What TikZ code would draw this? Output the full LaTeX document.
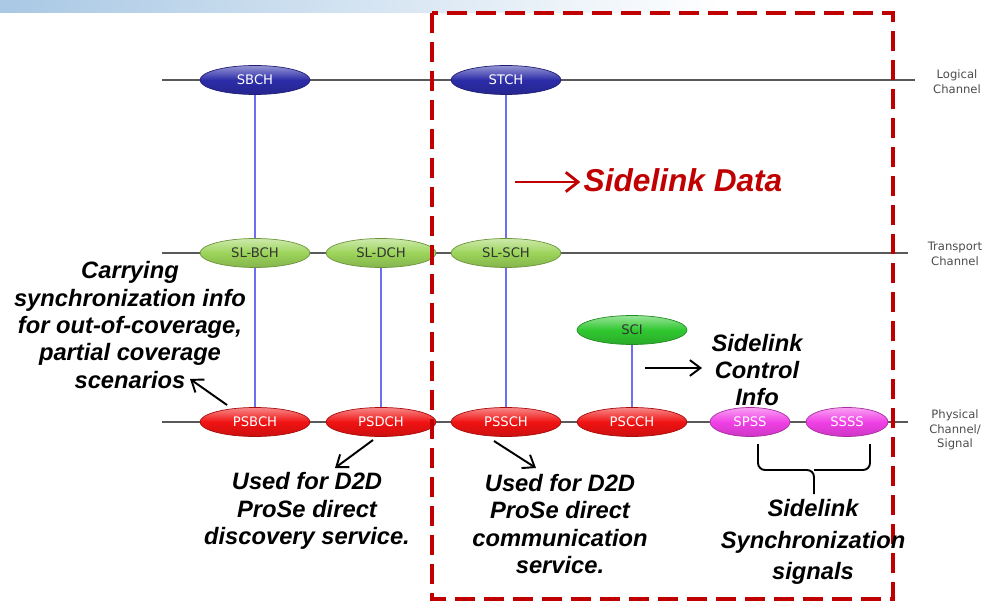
\documentclass[tikz,border=0pt]{standalone}
\usepackage{fontspec}
\setmainfont{Liberation Sans}
\newfontfamily\chfont{DejaVu Sans}
\usetikzlibrary{shapes.geometric,arrows.meta}

\definecolor{chblue}{HTML}{2C2CA8}
\definecolor{chgreen}{HTML}{9CD45A}
\definecolor{scigreen}{HTML}{30C830}
\definecolor{chred}{HTML}{F01212}
\definecolor{chmagenta}{HTML}{F040E6}
\definecolor{linkblue}{HTML}{6E6EF2}
\definecolor{boxred}{HTML}{C00000}
\definecolor{barblue}{HTML}{A9C8E4}

\begin{document}
\begin{tikzpicture}[x=0.02cm,y=-0.02cm]
\tikzset{ChanStyle/.style = {ellipse, draw=#1!70!black, line width=0.4pt, top color=#1!50!white,
    bottom color=#1!85!black, middle color=#1, minimum width=2.2cm, minimum height=0.58cm,
    inner sep=0pt, text=white, font=\chfont\fontsize{7.5}{8}\selectfont}}
\tikzset{LayerStyle/.style = {draw=black!65, line width=0.7pt}}
\tikzset{LinkStyle/.style = {draw=linkblue, line width=0.6pt}}
\tikzstyle{layerlbl}=[align=center, text=black!70, inner sep=0pt, font=\chfont\fontsize{6.6}{8.4}\selectfont]
\tikzstyle{note}=[align=center, inner sep=0pt, font=\bfseries\itshape\fontsize{13.5}{15.6}\selectfont]
\tikzstyle{notearrow}=[draw=black, line width=1.1pt, -{Straight Barb[length=6pt,width=9pt]}]

\useasboundingbox (0,0) rectangle (1000,604);
\shade[left color=barblue, right color=white] (0,0) rectangle (720,13);

% the three layers
\coordinate (logA) at (162,80);  \coordinate (logB) at (915,80);
\coordinate (trA) at (162,253);  \coordinate (trB) at (908,253);
\coordinate (phA) at (162,422);  \coordinate (phB) at (908,422);
\draw[LayerStyle] (logA) -- (logB);
\draw[LayerStyle] (trA) -- (trB);
\draw[LayerStyle] (phA) -- (phB);

\node[layerlbl] (logical) at (957,82) {Logical\\Channel};
\node[layerlbl] (transport) at (955,254) {Transport\\Channel};
\node[layerlbl] (physical) at (955,430) {Physical\\Channel/\\Signal};

% channels
\foreach \nm/\x/\txt in {sbch/255/SBCH, stch/506/STCH}
  \node[ChanStyle=chblue] (\nm) at (\x,80) {\txt};
\foreach \nm/\x/\txt in {slbch/255/SL-BCH, sldch/381/SL-DCH, slsch/506/SL-SCH}
  \node[ChanStyle=chgreen, text=black!80] (\nm) at (\x,253) {\txt};
\foreach \nm/\x/\txt in {psbch/255/PSBCH, psdch/381/PSDCH, pssch/506/PSSCH, pscch/632/PSCCH}
  \node[ChanStyle=chred] (\nm) at (\x,422) {\txt};
\node[ChanStyle=chmagenta, minimum width=1.6cm] (spss) at (750,422) {SPSS};
\node[ChanStyle=chmagenta, minimum width=1.64cm] (ssss) at (847,422) {SSSS};
\node[ChanStyle=scigreen, text=black!80] (sci) at (632,330) {SCI};

\draw[LinkStyle] (sbch) -- (slbch);
\draw[LinkStyle] (slbch) -- (psbch);
\draw[LinkStyle] (stch) -- (slsch);
\draw[LinkStyle] (slsch) -- (pssch);
\draw[LinkStyle] (sldch) -- (psdch);
\draw[LinkStyle] (sci) -- (pscch);

% sidelink box
\draw[boxred, line width=2.8pt, dash pattern=on 0.4cm off 0.18cm] (432,13) rectangle (893,599);

\node[note, text=boxred, font=\bfseries\itshape\fontsize{18}{20}\selectfont] (sldata) at (683,180) {Sidelink Data};
\coordinate (dataA) at (515,182);
\draw[boxred, line width=1.6pt, -{Straight Barb[length=7pt,width=11pt]}] (dataA) -- ([xshift=-0.06cm]dataA -| sldata.west);

% notes
\node[note] (carry) at (130,325) {Carrying\\synchronization info\\for out-of-coverage,\\partial coverage\\scenarios};
\node[note] (scilbl) at (757,370) {Sidelink\\Control\\Info};
\node[note] (disc) at (307,511) {Used for D2D\\ProSe direct\\discovery service.};
\node[note] (comm) at (560,524) {Used for D2D\\ProSe direct\\communication\\service.};
\node[note, font=\bfseries\itshape\fontsize{13.5}{17.8}\selectfont] (sync) at (813,542) {Sidelink\\Synchronization\\signals};

\coordinate (carryA) at (227,405);  \coordinate (carryB) at (190,379);
\coordinate (sciA) at (645,368);    \coordinate (sciB) at (702,368);
\coordinate (discA) at (373,440);   \coordinate (discB) at (335,468);
\coordinate (commA) at (494,441);   \coordinate (commB) at (536,468);
\draw[notearrow] (carryA) -- (carryB);
\draw[notearrow] (sciA) -- (sciB);
\draw[notearrow] (discA) -- (discB);
\draw[notearrow] (commA) -- (commB);

% brace under the sync signals
\draw[line width=1.1pt, rounded corners=0.14cm] (758,444) -- (758,470) -- (814,470) -- (814,494)
  (814,470) -- (870,470) -- (870,444);

\end{tikzpicture}
\end{document}
